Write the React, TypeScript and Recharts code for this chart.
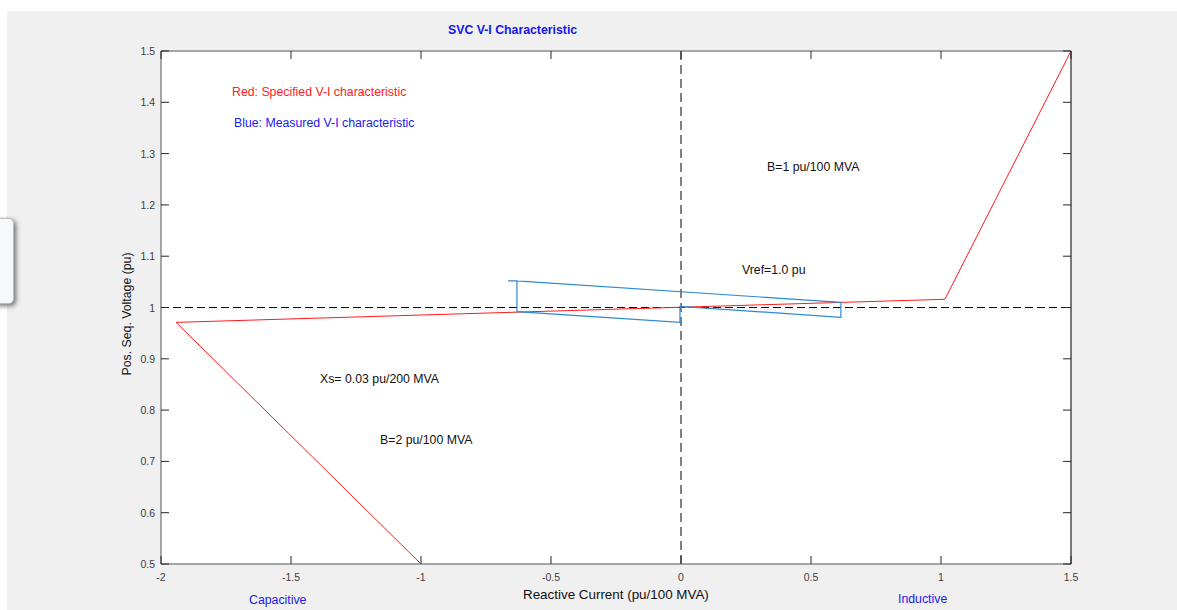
import React from "react";
import { LineChart, Line, XAxis, YAxis, ReferenceLine, CartesianGrid } from "recharts";

const xTicks = [-2, -1.5, -1, -0.5, 0, 0.5, 1, 1.5];
const yTicks = [0.5, 0.6, 0.7, 0.8, 0.9, 1.0, 1.1, 1.2, 1.3, 1.4, 1.5];

const specifiedX = [-1.0, -1.942, 1.015, 1.5];
const specifiedV = [0.5, 0.971, 1.016, 1.5];

const measuredX = [-0.665, -0.631, -0.631, -0.004, -0.004, 0.615, 0.615, -0.631];
const measuredV = [1.052, 1.052, 0.992, 0.971, 1.002, 0.981, 1.010, 1.052];

const specified = specifiedX.map((x, i) => ({ x, v: specifiedV[i] }));
const measured = measuredX.map((x, i) => ({ x, v: measuredV[i] }));

const FONT = "'Liberation Sans', Arial, Helvetica, sans-serif";
const fmt = (v: number) => String(Math.round(v * 10) / 10);

const BottomTick = (p: any) => (
  <g>
    <line x1={p.x} y1={p.y} x2={p.x} y2={p.y - 8} stroke="#262626" strokeWidth={1} />
    <text x={p.x} y={p.y + 17} textAnchor="middle" fontSize={10.5} fill="#404040" fontFamily={FONT}>
      {fmt(p.payload.value)}
    </text>
  </g>
);
const TopTick = (p: any) => (
  <line x1={p.x} y1={p.y} x2={p.x} y2={p.y + 8} stroke="#262626" strokeWidth={1} />
);
const LeftTick = (p: any) => (
  <g>
    <line x1={p.x} y1={p.y} x2={p.x + 8} y2={p.y} stroke="#262626" strokeWidth={1} />
    <text x={p.x - 6} y={p.y + 4} textAnchor="end" fontSize={10.5} fill="#404040" fontFamily={FONT}>
      {fmt(p.payload.value)}
    </text>
  </g>
);
const RightTick = (p: any) => (
  <line x1={p.x} y1={p.y} x2={p.x - 8} y2={p.y} stroke="#262626" strokeWidth={1} />
);

const txt = (s: string, left: number, top: number, color: string, extra: any = {}) => (
  <div
    style={{
      position: "absolute",
      left,
      top,
      color,
      fontFamily: FONT,
      fontSize: 12.3,
      whiteSpace: "nowrap",
      lineHeight: "14px",
      ...extra,
    }}
  >
    {s}
  </div>
);

export default function App() {
  return (
    <div style={{ position: "fixed", left: 0, top: 0, width: 1177, height: 610, background: "#fff", overflow: "hidden" }}>
      <div style={{ position: "absolute", left: 7, top: 11, width: 1170, height: 599, background: "#f0f0f0" }} />
      <div
        style={{
          position: "absolute",
          left: -8,
          top: 218,
          width: 20,
          height: 84,
          background: "#f6f8f9",
          border: "1px solid #b8bcbf",
          borderRadius: 5,
          boxShadow: "2px 2px 5px rgba(0,0,0,0.55)",
        }}
      />
      <div style={{ position: "absolute", left: 0, top: 0 }}>
        <LineChart width={1177} height={610} margin={{ top: 41, right: 96, bottom: 16, left: 121 }}>
          <CartesianGrid horizontal={false} vertical={false} fill="#ffffff" xAxisId="b" yAxisId="l" />
          <XAxis
            xAxisId="b"
            dataKey="x"
            type="number"
            domain={[-2, 1.5]}
            ticks={xTicks}
            allowDataOverflow
            height={30}
            tickSize={0}
            tickMargin={0}
            tickLine={false}
            tick={<BottomTick />}
            interval={0}
            axisLine={{ stroke: "#8a8a8a", strokeWidth: 1.5 }}
          />
          <XAxis
            xAxisId="t"
            orientation="top"
            dataKey="x"
            type="number"
            domain={[-2, 1.5]}
            ticks={xTicks}
            allowDataOverflow
            height={10}
            tickSize={0}
            tickMargin={0}
            tickLine={false}
            tick={<TopTick />}
            interval={0}
            axisLine={{ stroke: "#8a8a8a", strokeWidth: 1.5 }}
          />
          <YAxis
            yAxisId="l"
            type="number"
            domain={[0.5, 1.5]}
            ticks={yTicks}
            allowDataOverflow
            width={40}
            tickSize={0}
            tickMargin={0}
            tickLine={false}
            tick={<LeftTick />}
            interval={0}
            axisLine={{ stroke: "#8a8a8a", strokeWidth: 1.5 }}
          />
          <YAxis
            yAxisId="r"
            orientation="right"
            type="number"
            domain={[0.5, 1.5]}
            ticks={yTicks}
            allowDataOverflow
            width={10}
            tickSize={0}
            tickMargin={0}
            tickLine={false}
            tick={<RightTick />}
            interval={0}
            axisLine={{ stroke: "#262626", strokeWidth: 1.2 }}
          />
          <ReferenceLine xAxisId="b" yAxisId="l" y={1} stroke="#000" strokeWidth={1} strokeDasharray="8 4" />
          <ReferenceLine xAxisId="b" yAxisId="l" x={0} stroke="#808080" strokeWidth={2} strokeDasharray="9 5" />
          <Line
            xAxisId="b"
            yAxisId="l"
            data={specified}
            dataKey="v"
            type="linear"
            stroke="#ff1a1a"
            strokeWidth={1}
            dot={false}
            isAnimationActive={false}
          />
          <Line
            xAxisId="b"
            yAxisId="l"
            data={measured}
            dataKey="v"
            type="linear"
            stroke="#2b8ad4"
            strokeWidth={1.2}
            dot={false}
            isAnimationActive={false}
          />
        </LineChart>
      </div>
      {txt("SVC V-I Characteristic", 448, 23, "#1515ee", { fontWeight: "bold" })}
      {txt("Red: Specified V-I characteristic", 232, 85, "#ff2020")}
      {txt("Blue: Measured V-I characteristic", 234, 116, "#2020ee")}
      {txt("B=1 pu/100 MVA", 767, 160, "#111")}
      {txt("Vref=1.0 pu", 742, 263, "#111")}
      {txt("Xs= 0.03 pu/200 MVA", 320, 372, "#111")}
      {txt("B=2 pu/100 MVA", 380, 433, "#111")}
      {txt("Reactive Current (pu/100 MVA)", 523, 587, "#111", { fontSize: 13.4, lineHeight: "15px" })}
      {txt("Capacitive", 249, 593, "#2020ee")}
      {txt("Inductive", 898, 592, "#2020ee")}
      <div
        style={{
          position: "absolute",
          left: 127,
          top: 314,
          transform: "translate(-50%, -50%) rotate(-90deg)",
          fontFamily: FONT,
          fontSize: 12.3,
          color: "#111",
          whiteSpace: "nowrap",
        }}
      >
        Pos. Seq. Voltage (pu)
      </div>
    </div>
  );
}
